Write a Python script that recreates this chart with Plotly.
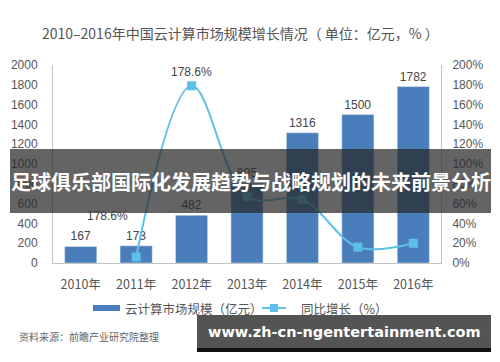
import plotly.graph_objects as go

years = ["2010年", "2011年", "2012年", "2013年", "2014年", "2015年", "2016年"]
market_size = [167, 173, 482, 805, 1316, 1500, 1782]
growth_years = ["2011年", "2012年", "2013年", "2014年", "2015年", "2016年"]
growth_pct = [6, 179, 67, 64, 16, 20]
left_ticks = list(range(0, 2001, 200))
right_ticks = list(range(0, 201, 20))

BAR = "#4a7ebb"
LINE = "#5ec0ea"
GRAY = "#555555"
FONT = "Liberation Sans, Noto Sans CJK SC, sans-serif"
CJK = "Noto Sans CJK SC, sans-serif"

L, R, T, B = 53, 441, 65, 263
def px(x):
    return (x - L) / (R - L)
def py(y):
    return (B - y) / (B - T)

def note(text, x, y, size, color, family, xanchor="center"):
    return dict(text=text, x=px(x), y=py(y), xref="paper", yref="paper",
                xanchor=xanchor, yanchor="middle", showarrow=False,
                font=dict(size=size, color=color, family=family))

fig = go.Figure()
fig.add_trace(go.Bar(
    x=years, y=market_size, marker_color=BAR, width=0.58,
    text=[str(v) for v in market_size], textposition="outside",
    textfont=dict(size=12, color="#444444", family=FONT),
    cliponaxis=False, showlegend=False,
))
fig.add_trace(go.Scatter(
    x=growth_years, y=growth_pct, yaxis="y2", mode="lines+markers",
    line=dict(color=LINE, width=2, shape="spline", smoothing=1.0),
    marker=dict(symbol="square", size=9, color=LINE),
    showlegend=False,
))

annotations = [
    note("2010–2016年中国云计算市场规模增长情况（ 单位：亿元，% ）", 240, 33, 14, GRAY, CJK),
    dict(text="178.6%", x=growth_years[1], y=growth_pct[1], xref="x", yref="y2",
         yshift=14, yanchor="middle", showarrow=False,
         font=dict(size=12, color="#444444", family=FONT)),
    note("178.6%", 107, 216, 12, "#444444", FONT),
    note("云计算市场规模（亿元）", 123, 308, 12.5, GRAY, CJK, "left"),
    note("同比增长（%）", 299, 308, 12.5, GRAY, CJK, "left"),
    note("资料来源：前瞻产业研究院整理", 17, 336, 10, "#666666", CJK, "left"),
    note("<b>足球俱乐部国际化发展趋势与战略规划的未来前景分析</b>", 250.5, 181, 20, "white", CJK),
    note("<b>www.zh-cn-ngentertainment.com</b>", 344, 332, 14.5, "white", "DejaVu Sans, sans-serif"),
]

shapes = [
    dict(type="rect", xref="paper", yref="paper", x0=px(93), x1=px(120), y0=py(311), y1=py(305),
         fillcolor=BAR, line=dict(width=0)),
    dict(type="line", xref="paper", yref="paper", x0=px(262), x1=px(286), y0=py(308), y1=py(308),
         line=dict(color=LINE, width=2)),
    dict(type="rect", xref="paper", yref="paper", x0=px(270), x1=px(278), y0=py(312), y1=py(304),
         fillcolor=LINE, line=dict(width=0)),
    dict(type="rect", xref="paper", yref="paper", x0=px(10), x1=px(491), y0=py(213), y1=py(149),
         fillcolor="rgba(40,40,40,0.72)", line=dict(width=0), layer="above"),
    dict(type="rect", xref="paper", yref="paper", x0=px(197), x1=px(491), y0=py(352), y1=py(315),
         fillcolor="rgba(75,75,75,0.95)", line=dict(width=0), layer="above"),
    dict(type="rect", xref="paper", yref="paper", x0=px(197), x1=px(491), y0=py(352), y1=py(348),
         fillcolor="#111111", line=dict(width=0), layer="above"),
]

fig.update_layout(
    width=500, height=362,
    margin=dict(l=L, r=500 - R, t=T, b=362 - B),
    paper_bgcolor="white", plot_bgcolor="white",
    font=dict(family=FONT, color=GRAY, size=12),
    xaxis=dict(showgrid=False, showline=True, linecolor="#c4c4c4", ticks="",
               ticklabelstandoff=10, tickfont=dict(size=12.5, color=GRAY, family=CJK)),
    yaxis=dict(range=[0, 2000], tickvals=left_ticks, showgrid=False, zeroline=False,
               showline=True, linecolor="#c4c4c4", ticks="", ticklabelstandoff=12,
               tickfont=dict(size=12, color=GRAY)),
    yaxis2=dict(range=[0, 200], tickvals=right_ticks, ticktext=[f"{v}%" for v in right_ticks],
                overlaying="y", side="right", showgrid=False, zeroline=False,
                showline=True, linecolor="#c4c4c4", ticks="", ticklabelstandoff=8,
                tickfont=dict(size=12, color=GRAY)),
    annotations=annotations, shapes=shapes, bargap=0.42,
)

fig.write_html("out.html")
